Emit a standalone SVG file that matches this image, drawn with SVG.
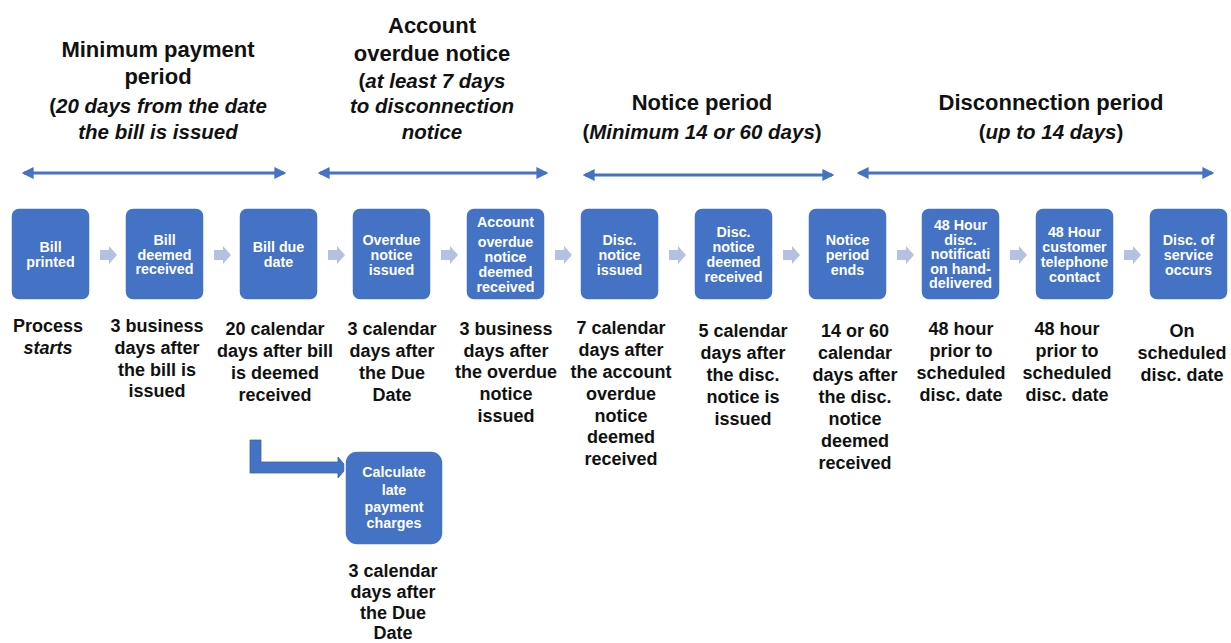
<svg xmlns="http://www.w3.org/2000/svg" width="1231" height="643" viewBox="0 0 1231 643">
<defs>
<style>
.box{fill:#4472C4;stroke:#ffffff;stroke-width:1.5}
.bt{font-family:"Liberation Sans",Arial,sans-serif;font-weight:bold;font-size:14.3px;fill:#ffffff;text-anchor:middle}
.lt{font-family:"Liberation Sans",Arial,sans-serif;font-weight:bold;font-size:18px;fill:#111111;text-anchor:middle}
.hd{font-family:"Liberation Sans",Arial,sans-serif;font-weight:bold;font-size:22px;fill:#111111;text-anchor:middle}
.sub{font-family:"Liberation Sans",Arial,sans-serif;font-weight:bold;font-size:20.5px;fill:#111111;text-anchor:middle}
.it{font-style:italic}
.step{fill:#B4C1E2}
.span{stroke:#4472C4;stroke-width:3;fill:none;marker-start:url(#ah);marker-end:url(#ah)}
</style>
<marker id="ah" viewBox="0 0 10 10" refX="8" refY="5" markerWidth="4" markerHeight="4" orient="auto-start-reverse" markerUnits="strokeWidth">
<path d="M0,0 L10,5 L0,10 Z" fill="#4472C4"/>
</marker>
<path id="chev" d="M0,-5 L9,-5 L9,-9 L17,0 L9,9 L9,5 L0,5 Z"/>
</defs>

<g id="headings">
<text class="hd" x="158" y="57">Minimum payment</text>
<text class="hd" x="158" y="84">period</text>
<text class="sub" x="158" y="113">(<tspan class="it">20 days from the date</tspan></text>
<text class="sub it" x="158" y="139">the bill is issued</text>
<text class="hd" x="432" y="33">Account</text>
<text class="hd" x="432" y="61">overdue notice</text>
<text class="sub" x="432" y="88">(<tspan class="it">at least 7 days</tspan></text>
<text class="sub it" x="432" y="113">to disconnection</text>
<text class="sub it" x="432" y="139">notice</text>
<text class="hd" x="702" y="110">Notice period</text>
<text class="sub" x="702" y="139">(<tspan class="it">Minimum 14 or 60 days</tspan>)</text>
<text class="hd" x="1051" y="110">Disconnection period</text>
<text class="sub" x="1051" y="139">(<tspan class="it">up to 14 days</tspan>)</text>
</g>

<g id="connectors">
<line class="span" x1="24" y1="173" x2="284" y2="173"/>
<line class="span" x1="320" y1="173" x2="546" y2="173"/>
<line class="span" x1="585" y1="175" x2="832" y2="175"/>
<line class="span" x1="859" y1="173" x2="1212" y2="173"/>
<use href="#chev" class="step" x="100" y="255"/>
<use href="#chev" class="step" x="214" y="255"/>
<use href="#chev" class="step" x="328" y="255"/>
<use href="#chev" class="step" x="441" y="255"/>
<use href="#chev" class="step" x="555" y="255"/>
<use href="#chev" class="step" x="669" y="255"/>
<use href="#chev" class="step" x="783" y="255"/>
<use href="#chev" class="step" x="897" y="255"/>
<use href="#chev" class="step" x="1010" y="255"/>
<use href="#chev" class="step" x="1124" y="255"/>
<path d="M250,440 L261,440 L261,462 L338,462 L338,457 L347,467.5 L338,478 L338,473 L250,473 Z" fill="#4472C4" stroke="#3a63ad" stroke-width="0.8"/>
</g>

<g id="n1">
<rect class="box" x="11" y="208" width="79" height="92" rx="8"/>
<text class="bt" x="50.5" y="252">Bill</text>
<text class="bt" x="50.5" y="267">printed</text>
<text class="lt" x="48" y="332">Process</text>
<text class="lt it" x="48" y="354">starts</text>
</g>
<g id="n2">
<rect class="box" x="125" y="208" width="79" height="92" rx="8"/>
<text class="bt" x="164.5" y="245">Bill</text>
<text class="bt" x="164.5" y="259.5">deemed</text>
<text class="bt" x="164.5" y="274">received</text>
<text class="lt" x="157" y="332">3 business</text>
<text class="lt" x="157" y="354">days after</text>
<text class="lt" x="157" y="376">the bill is</text>
<text class="lt" x="157" y="397">issued</text>
</g>
<g id="n3">
<rect class="box" x="239" y="208" width="79" height="92" rx="8"/>
<text class="bt" x="278.5" y="252">Bill due</text>
<text class="bt" x="278.5" y="267">date</text>
<text class="lt" x="275" y="335">20 calendar</text>
<text class="lt" x="275" y="357">days after bill</text>
<text class="lt" x="275" y="379">is deemed</text>
<text class="lt" x="275" y="401">received</text>
</g>
<g id="n4">
<rect class="box" x="352" y="208" width="79" height="92" rx="8"/>
<text class="bt" x="391.5" y="245">Overdue</text>
<text class="bt" x="391.5" y="260">notice</text>
<text class="bt" x="391.5" y="275">issued</text>
<text class="lt" x="392" y="335">3 calendar</text>
<text class="lt" x="392" y="357">days after</text>
<text class="lt" x="392" y="379">the Due</text>
<text class="lt" x="392" y="401">Date</text>
</g>
<g id="n5">
<rect class="box" x="466" y="208" width="79" height="92" rx="8"/>
<text class="bt" x="505.5" y="227">Account</text>
<text class="bt" x="505.5" y="247">overdue</text>
<text class="bt" x="505.5" y="262">notice</text>
<text class="bt" x="505.5" y="277">deemed</text>
<text class="bt" x="505.5" y="292">received</text>
<text class="lt" x="506" y="335">3 business</text>
<text class="lt" x="506" y="357">days after</text>
<text class="lt" x="506" y="378">the overdue</text>
<text class="lt" x="506" y="400">notice</text>
<text class="lt" x="506" y="422">issued</text>
</g>
<g id="n6">
<rect class="box" x="580" y="208" width="79" height="92" rx="8"/>
<text class="bt" x="619.5" y="245">Disc.</text>
<text class="bt" x="619.5" y="260">notice</text>
<text class="bt" x="619.5" y="275">issued</text>
<text class="lt" x="621" y="334">7 calendar</text>
<text class="lt" x="621" y="356">days after</text>
<text class="lt" x="621" y="378">the account</text>
<text class="lt" x="621" y="400">overdue</text>
<text class="lt" x="621" y="422">notice</text>
<text class="lt" x="621" y="443">deemed</text>
<text class="lt" x="621" y="465">received</text>
</g>
<g id="n7">
<rect class="box" x="694" y="208" width="79" height="92" rx="8"/>
<text class="bt" x="733.5" y="237">Disc.</text>
<text class="bt" x="733.5" y="252">notice</text>
<text class="bt" x="733.5" y="267">deemed</text>
<text class="bt" x="733.5" y="282">received</text>
<text class="lt" x="743" y="337">5 calendar</text>
<text class="lt" x="743" y="359">days after</text>
<text class="lt" x="743" y="381">the disc.</text>
<text class="lt" x="743" y="403">notice is</text>
<text class="lt" x="743" y="425">issued</text>
</g>
<g id="n8">
<rect class="box" x="808" y="208" width="79" height="92" rx="8"/>
<text class="bt" x="847.5" y="245">Notice</text>
<text class="bt" x="847.5" y="260">period</text>
<text class="bt" x="847.5" y="275">ends</text>
<text class="lt" x="855" y="337">14 or 60</text>
<text class="lt" x="855" y="359">calendar</text>
<text class="lt" x="855" y="381">days after</text>
<text class="lt" x="855" y="403">the disc.</text>
<text class="lt" x="855" y="425">notice</text>
<text class="lt" x="855" y="447">deemed</text>
<text class="lt" x="855" y="469">received</text>
</g>
<g id="n9">
<rect class="box" x="921" y="208" width="79" height="92" rx="8"/>
<text class="bt" x="960.5" y="230">48 Hour</text>
<text class="bt" x="960.5" y="245">disc.</text>
<text class="bt" x="960.5" y="259">notificati</text>
<text class="bt" x="960.5" y="274">on hand-</text>
<text class="bt" x="960.5" y="288">delivered</text>
<text class="lt" x="961" y="335">48 hour</text>
<text class="lt" x="961" y="357">prior to</text>
<text class="lt" x="961" y="379">scheduled</text>
<text class="lt" x="961" y="401">disc. date</text>
</g>
<g id="n10">
<rect class="box" x="1035" y="208" width="79" height="92" rx="8"/>
<text class="bt" x="1074.5" y="237">48 Hour</text>
<text class="bt" x="1074.5" y="252">customer</text>
<text class="bt" x="1074.5" y="267">telephone</text>
<text class="bt" x="1074.5" y="282">contact</text>
<text class="lt" x="1067" y="335">48 hour</text>
<text class="lt" x="1067" y="357">prior to</text>
<text class="lt" x="1067" y="379">scheduled</text>
<text class="lt" x="1067" y="401">disc. date</text>
</g>
<g id="n11">
<rect class="box" x="1149" y="208" width="79" height="92" rx="8"/>
<text class="bt" x="1188.5" y="245">Disc. of</text>
<text class="bt" x="1188.5" y="260">service</text>
<text class="bt" x="1188.5" y="275">occurs</text>
<text class="lt" x="1182" y="337">On</text>
<text class="lt" x="1182" y="359">scheduled</text>
<text class="lt" x="1182" y="381">disc. date</text>
</g>
<g id="n12">
<rect class="box" x="345" y="451" width="98" height="94" rx="12"/>
<text class="bt" x="394" y="477">Calculate</text>
<text class="bt" x="394" y="495">late</text>
<text class="bt" x="394" y="512">payment</text>
<text class="bt" x="394" y="528">charges</text>
<text class="lt" x="393" y="577">3 calendar</text>
<text class="lt" x="393" y="598">days after</text>
<text class="lt" x="393" y="619">the Due</text>
<text class="lt" x="393" y="639">Date</text>
</g>
</svg>
